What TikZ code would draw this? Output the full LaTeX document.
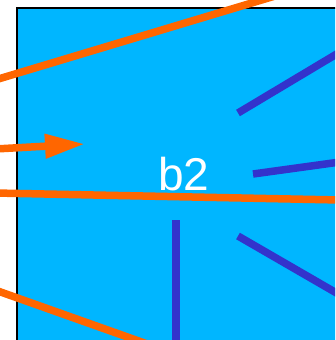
\documentclass[tikz,border=0pt]{standalone}
\usepackage{fontspec}
\setmainfont{Liberation Sans}
\usetikzlibrary{arrows.meta}
\definecolor{boxcyan}{RGB}{0,182,255}
\definecolor{rayorange}{RGB}{255,102,0}
\definecolor{spokeblue}{RGB}{51,51,204}
\tikzset{
  ray/.style={draw=rayorange, line width=7.5pt},
  spoke/.style={draw=spokeblue, line width=7.5pt}
}
\begin{document}
\begin{tikzpicture}[x=1pt, y=-1pt, line cap=butt]
      \useasboundingbox (0,0) rectangle (335,340);
      \clip (0,0) rectangle (335,340);
      % the box
      \draw[line width=1.6pt, fill=boxcyan] (17,8) rectangle (360,365);
      \node[font=\fontsize{46}{46}\selectfont, text=white, inner sep=0pt] (b2) at (184,174) {b2};
      % orange rays
      \coordinate (r1a) at (-5,80);   \coordinate (r1b) at (275,-4);
      \coordinate (r2a) at (-5,149);  \coordinate (r2b) at (85,144);
      \coordinate (r3a) at (-5,193);  \coordinate (r3b) at (340,200);
      \coordinate (r4a) at (-5,290);  \coordinate (r4b) at (150,345);
      \draw[ray] (r1a) -- (r1b);
      \draw[ray, -{Triangle[length=40pt, width=23pt]}] (r2a) -- (r2b);
      \draw[ray] (r3a) -- (r3b);
      \draw[ray] (r4a) -- (r4b);
      % blue spokes
      \coordinate (s1a) at (176,220); \coordinate (s1b) at (176,345);
      \coordinate (s2a) at (238,113); \coordinate (s2b) at (340,52);
      \coordinate (s3a) at (253,174); \coordinate (s3b) at (340,162);
      \coordinate (s4a) at (238,236); \coordinate (s4b) at (340,295);
      \draw[spoke] (s1a) -- (s1b);
      \draw[spoke] (s2a) -- (s2b);
      \draw[spoke] (s3a) -- (s3b);
      \draw[spoke] (s4a) -- (s4b);
    \end{tikzpicture}
\end{document}
